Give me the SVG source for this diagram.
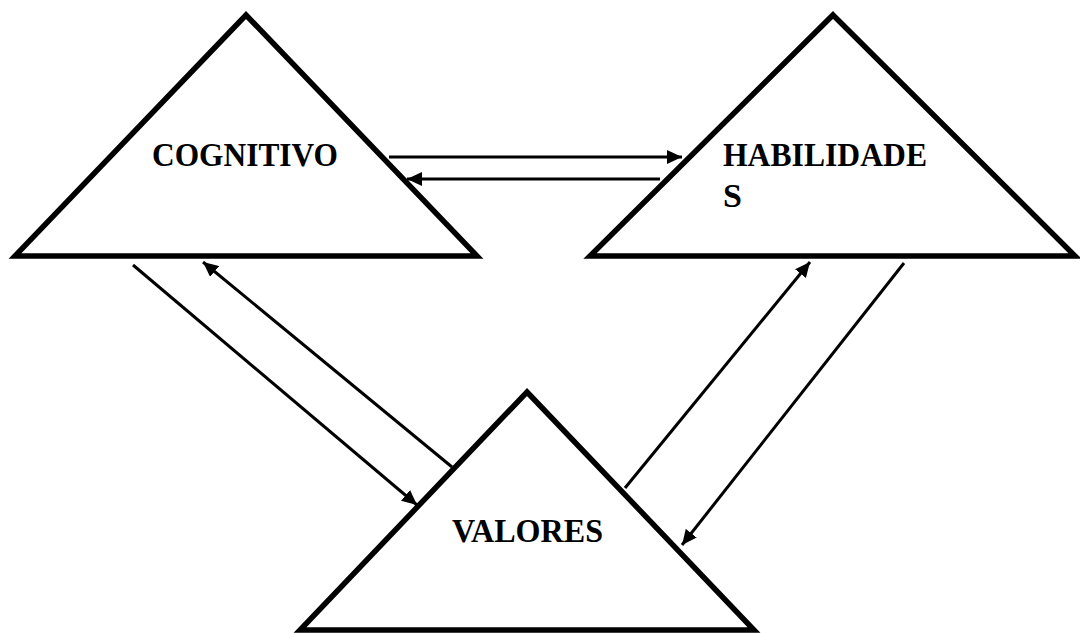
<svg xmlns="http://www.w3.org/2000/svg" width="1080" height="633" viewBox="0 0 1080 633">
<style>
.tri{fill:none;stroke:#000;stroke-width:5.5;stroke-linejoin:miter;stroke-miterlimit:10}
.lbl{font-family:"Liberation Serif","Times New Roman",serif;font-weight:bold;font-size:34px;fill:#000}
.arr{fill:none;stroke:#000;stroke-width:3;marker-end:url(#ah)}
</style>
<defs>
<marker id="ah" markerUnits="userSpaceOnUse" markerWidth="16" markerHeight="14" refX="15" refY="7" orient="auto">
<path d="M0,0 L15,7 L0,14 z" fill="#000"/>
</marker>
</defs>
<rect width="1080" height="633" fill="#fff"/>
<g id="cognitivo">
<polygon class="tri" points="246,15 477,256 15,256"/>
<text class="lbl" x="152" y="166" textLength="186" lengthAdjust="spacingAndGlyphs">COGNITIVO</text>
</g>
<g id="habilidades">
<polygon class="tri" points="833,15 1075,256 590,256"/>
<text class="lbl" x="723" y="166" textLength="204" lengthAdjust="spacingAndGlyphs">HABILIDADE</text>
<text class="lbl" x="723" y="207">S</text>
</g>
<g id="valores">
<polygon class="tri" points="527,392 754,630 300,630"/>
<text class="lbl" x="452" y="542" textLength="151" lengthAdjust="spacingAndGlyphs">VALORES</text>
</g>
<g id="connectors">
<line class="arr" x1="389" y1="157" x2="682" y2="157"/>
<line class="arr" x1="660" y1="179" x2="407" y2="179"/>
<line class="arr" x1="133" y1="265" x2="417" y2="505"/>
<line class="arr" x1="452" y1="467" x2="203" y2="262"/>
<line class="arr" x1="625" y1="488" x2="810" y2="262"/>
<line class="arr" x1="904" y1="263" x2="682" y2="545"/>
</g>
</svg>
